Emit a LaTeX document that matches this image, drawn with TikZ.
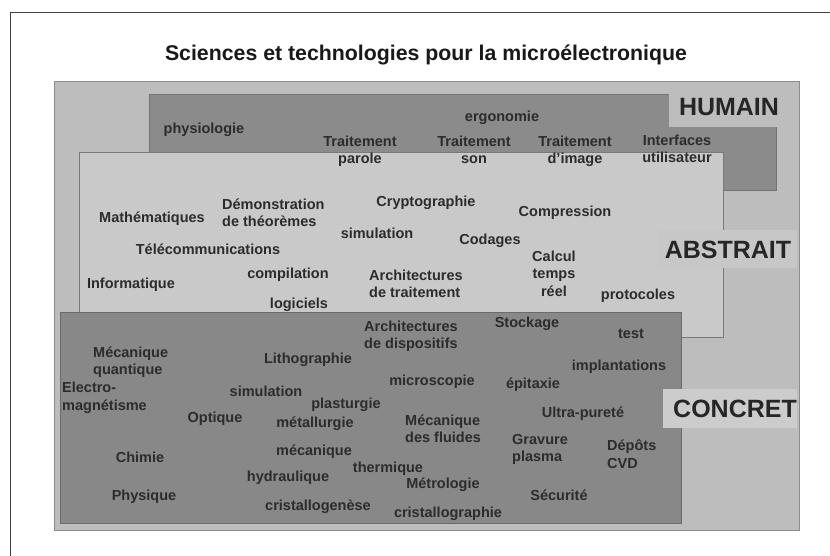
\documentclass[tikz,border=0pt]{standalone}
\usepackage{fontspec}
\setmainfont{Liberation Sans}
\definecolor{panelc}{HTML}{BDBDBD}
\definecolor{humc}{HTML}{8B8B8B}
\definecolor{absc}{HTML}{C9C9C9}
\definecolor{conc}{HTML}{888888}
\definecolor{txtc}{HTML}{2C2C2C}
\begin{document}
\begin{tikzpicture}[x=1pt,y=-1pt,
  lbl/.style={inner sep=0pt, yshift=-2pt, text=txtc, font=\fontsize{14.5}{17.5}\selectfont\bfseries,
    execute at begin node=\strut, execute at end node=\strut},
  lblc/.style={lbl, align=center},
  lbll/.style={lbl, align=left, anchor=west},
  big/.style={inner sep=0pt, text=black!85, font=\fontsize{25}{30}\selectfont\bfseries},
  boxline/.style={line width=0.8pt}]
\useasboundingbox (0,0) rectangle (830,556);
\fill[white] (0,0) rectangle (830,556);
% frame
\draw[line width=1pt, black!75] (10,556) -- (10,13) -- (830,13);
% title
\node[inner sep=0pt, text=black!90, font=\fontsize{21.3}{25}\selectfont\bfseries] (title) at (426,55) {Sciences et technologies pour la microélectronique};
% panels
\draw[boxline, fill=panelc, draw=black!45] (54,81) rectangle (799,530);
\draw[boxline, fill=humc, draw=black!55] (149,94) rectangle (776,190);
\fill[panelc] (669,89) rectangle (790,127);
\draw[boxline, fill=absc, draw=black!52] (79,152) rectangle (723,337);
\fill[black!22] (658,230) rectangle (797,268);
\draw[boxline, fill=conc, draw=black!58] (60,312) rectangle (681,523);
\fill[black!20] (663,389) rectangle (797,428);
% HUMAIN
\node[big] (humain) at (729,107) {HUMAIN};
\node[lbl] (physio) at (204,128) {physiologie};
\node[lbl] (ergo) at (502,116) {ergonomie};
\node[lblc] (tparole) at (360,150.5) {Traitement\\parole};
\node[lblc] (tson) at (474,150.5) {Traitement\\son};
\node[lblc] (timage) at (575,150.5) {Traitement\\d'image};
\node[lblc] (interf) at (677,149.5) {Interfaces\\utilisateur};
% ABSTRAIT
\node[big] (abstrait) at (728,250) {ABSTRAIT};
\node[lbl] (math) at (152,217) {Mathématiques};
\node[lbll] (demo) at (222,213.5) {Démonstration\\de théorèmes};
\node[lbl] (crypto) at (426,201) {Cryptographie};
\node[lbl] (simA) at (377,233) {simulation};
\node[lbl] (compr) at (565,211) {Compression};
\node[lbl] (codages) at (490,239) {Codages};
\node[lbl] (telecom) at (208,249) {Télécommunications};
\node[lblc] (calcul) at (554,274) {Calcul\\temps\\réel};
\node[lbl] (info) at (131,283) {Informatique};
\node[lbl] (compil) at (288,273) {compilation};
\node[lbll] (archT) at (369,284.5) {Architectures\\de traitement};
\node[lbl] (logic) at (299,303) {logiciels};
\node[lbl] (proto) at (638,294) {protocoles};
% CONCRET
\node[big] (concret) at (735,409) {CONCRET};
\node[lbl] (stock) at (527,322) {Stockage};
\node[lbl] (test) at (631,333) {test};
\node[lbll] (archD) at (364,335.5) {Architectures\\de dispositifs};
\node[lbll] (mecaq) at (93,361.5) {Mécanique\\quantique};
\node[lbl] (litho) at (308,358) {Lithographie};
\node[lbl] (impl) at (619,365) {implantations};
\node[lbll] (electro) at (62,397) {Electro-\\magnétisme};
\node[lbl] (simC) at (266,391) {simulation};
\node[lbl] (micro) at (432,380) {microscopie};
\node[lbl] (epi) at (533,383) {épitaxie};
\node[lbl] (plast) at (346,403) {plasturgie};
\node[lbl] (optique) at (215,417) {Optique};
\node[lbl] (metal) at (315,422) {métallurgie};
\node[lbll] (mecaf) at (405,429.5) {Mécanique\\des fluides};
\node[lbl] (ultra) at (583,412) {Ultra-pureté};
\node[lbll] (gravure) at (512,448.5) {Gravure\\plasma};
\node[lbll] (depots) at (607,454.5) {Dépôts\\CVD};
\node[lbl] (chimie) at (140,457) {Chimie};
\node[lbl] (meca) at (314,450) {mécanique};
\node[lbl] (therm) at (388,467) {thermique};
\node[lbl] (hydro) at (288,476) {hydraulique};
\node[lbl] (metro) at (443,483) {Métrologie};
\node[lbl] (secu) at (559,495) {Sécurité};
\node[lbl] (phys) at (144,495) {Physique};
\node[lbl] (cgen) at (318,505) {cristallogenèse};
\node[lbl] (cgraph) at (448,512) {cristallographie};
\end{tikzpicture}
\end{document}
